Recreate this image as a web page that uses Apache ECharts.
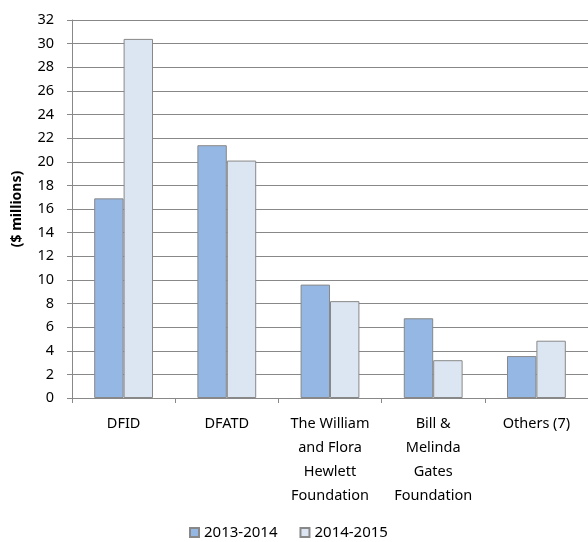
<!DOCTYPE html>
<html>
<head>
<meta charset="utf-8">
<script src="https://cdn.jsdelivr.net/npm/echarts@6/dist/echarts.min.js"></script>
<style>html,body{margin:0;padding:0;background:#fff;}#c{width:588px;height:542px;}</style>
</head>
<body>
<div id="c"></div>
<script>
const categories = ["DFID", "DFATD", "The William\nand Flora\nHewlett\nFoundation", "Bill &\nMelinda\nGates\nFoundation", "Others (7)"];
const seriesNames = ["2013-2014", "2014-2015"];
const values2013 = [16.9, 21.4, 9.6, 6.75, 3.55];
const values2014 = [30.4, 20.1, 8.2, 3.2, 4.85];
const yMin = 0, yMax = 32, yStep = 2;

const FONT = "Noto Sans";
const chart = echarts.init(document.getElementById('c'));
chart.setOption({
  animation: false,
  textStyle: { fontFamily: FONT },
  grid: { left: 72, top: 20, width: 518, height: 378, containLabel: false },
  legend: {
    top: 520, left: 184,
    itemWidth: 9, itemHeight: 9, itemGap: 22,
    icon: 'rect',
    textStyle: { fontSize: 15, color: '#000', fontFamily: FONT },
    data: seriesNames
  },
  xAxis: {
    type: 'category',
    data: categories,
    axisLine: { lineStyle: { color: '#888' } },
    axisTick: { show: true, length: 5, lineStyle: { color: '#888' } },
    axisLabel: { color: '#000', fontSize: 14.5, lineHeight: 24, margin: 14, interval: 0 },
    splitLine: { show: false }
  },
  yAxis: {
    type: 'value',
    min: yMin, max: yMax, interval: yStep,
    name: '($ millions)',
    nameLocation: 'middle',
    nameGap: 48,
    nameTextStyle: { fontWeight: 'bold', fontSize: 14, color: '#000' },
    axisLine: { show: true, lineStyle: { color: '#888' } },
    axisTick: { show: true, length: 5, lineStyle: { color: '#888' } },
    axisLabel: { color: '#000', fontSize: 14.5, margin: 18 },
    splitLine: { lineStyle: { color: '#888', width: 1 } }
  },
  series: [
    {
      name: seriesNames[0], type: 'bar', data: values2013,
      barWidth: '28.5%', barGap: '0%',
      itemStyle: { color: '#95B7E3', borderColor: '#888', borderWidth: 1 }
    },
    {
      name: seriesNames[1], type: 'bar', data: values2014,
      barWidth: '28.5%', barGap: '0%',
      itemStyle: { color: '#DCE6F2', borderColor: '#888', borderWidth: 1 }
    }
  ]
});
</script>
</body>
</html>
